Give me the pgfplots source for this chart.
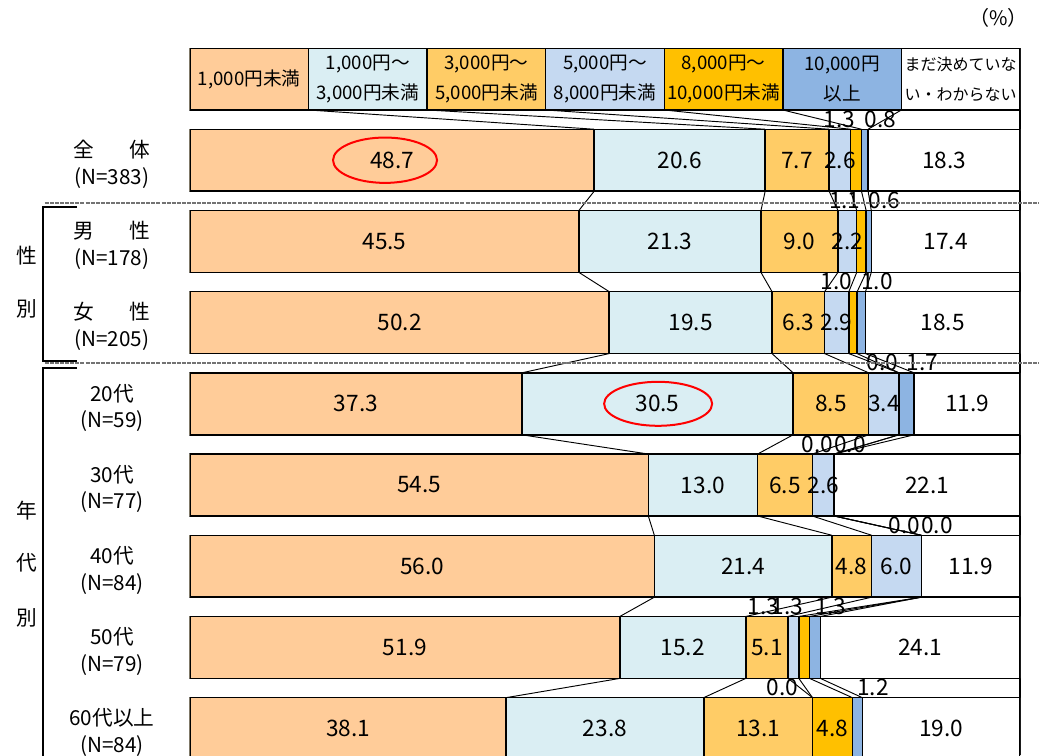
\documentclass[border=0pt]{standalone}
\usepackage{fontspec}
\setmainfont{Noto Sans CJK JP}
\usepackage{pgfplots}
\usepackage{pgfplotstable}
\pgfplotsset{compat=1.18}

\definecolor{c1}{HTML}{FFCC99}
\definecolor{c2}{HTML}{DAEEF3}
\definecolor{c3}{HTML}{FFCC66}
\definecolor{c4}{HTML}{C5D9F1}
\definecolor{c5}{HTML}{FFC000}
\definecolor{c6}{HTML}{8DB4E2}

% row 0 = legend header (equal widths)
\pgfplotstableread{
row a    b    c    d   e   f   g
0   1    1    1    1   1   1   1
1   48.7 20.6 7.7  2.6 1.3 0.8 18.3
2   45.5 21.3 9.0  2.2 1.1 0.6 17.4
3   50.2 19.5 6.3  2.9 1.0 1.0 18.5
4   37.3 30.5 8.5  3.4 0.0 1.7 11.9
5   54.5 13.0 6.5  2.6 0.0 0.0 22.1
6   56.0 21.4 4.8  6.0 0.0 0.0 11.9
7   51.9 15.2 5.1  1.3 1.3 1.3 24.1
8   38.1 23.8 13.1 0.0 4.8 1.2 19.0
}\data

% 100% stacking: cumulative shares
\pgfplotstablecreatecol[create col/expr={\thisrow{a}+\thisrow{b}+\thisrow{c}+\thisrow{d}+\thisrow{e}+\thisrow{f}+\thisrow{g}}]{s}\data
\pgfplotstablecreatecol[create col/expr={100*\thisrow{a}/\thisrow{s}}]{cA}\data
\pgfplotstablecreatecol[create col/expr={\thisrow{cA}+100*\thisrow{b}/\thisrow{s}}]{cB}\data
\pgfplotstablecreatecol[create col/expr={\thisrow{cB}+100*\thisrow{c}/\thisrow{s}}]{cC}\data
\pgfplotstablecreatecol[create col/expr={\thisrow{cC}+100*\thisrow{d}/\thisrow{s}}]{cD}\data
\pgfplotstablecreatecol[create col/expr={\thisrow{cD}+100*\thisrow{e}/\thisrow{s}}]{cE}\data
\pgfplotstablecreatecol[create col/expr={\thisrow{cE}+100*\thisrow{f}/\thisrow{s}}]{cF}\data
% series lines: shift to next row
\pgfplotstablecreatecol[create col/expr={\nextrow{cA}-\thisrow{cA}}]{uA}\data
\pgfplotstablecreatecol[create col/expr={\nextrow{cB}-\thisrow{cB}}]{uB}\data
\pgfplotstablecreatecol[create col/expr={\nextrow{cC}-\thisrow{cC}}]{uC}\data
\pgfplotstablecreatecol[create col/expr={\nextrow{cD}-\thisrow{cD}}]{uD}\data
\pgfplotstablecreatecol[create col/expr={\nextrow{cE}-\thisrow{cE}}]{uE}\data
\pgfplotstablecreatecol[create col/expr={\nextrow{cF}-\thisrow{cF}}]{uF}\data

\pgfplotsset{
  seg/.style={xbar, bar shift=0pt, bar width=0.763, draw=black, line width=1.1pt, fill=#1},
  sl/.style={black, line width=0.7pt, quiver={u=\thisrow{#1}, v=0.237}, skip coords between index={8}{9}},
  lab/.style={draw=none, point meta=explicit,
    nodes near coords={\pgfmathprintnumber[fixed,fixed zerofill,precision=1,assume math mode=true]{\pgfplotspointmeta}},
    every node near coord/.append style={anchor=center, inner sep=0pt, font=\fontsize{17}{17}\selectfont},
    skip coords between index={0}{1}},
}

\begin{document}
\begin{tikzpicture}
\begin{axis}[
  x=6.225pt, y=60.9pt, y dir=reverse,
  xmin=0, xmax=100, ymin=-0.3815, ymax=8.325,
  axis x line=none, axis y line*=right, ytick=\empty,
  axis line style={line width=1.1pt},
  clip mode=individual,
]
\addplot[seg=white] table[x expr=100, y=row]{\data};
\addplot[seg=c6] table[x=cF, y=row]{\data};
\addplot[seg=c5] table[x=cE, y=row]{\data};
\addplot[seg=c4] table[x=cD, y=row]{\data};
\addplot[seg=c3] table[x=cC, y=row]{\data};
\addplot[seg=c2] table[x=cB, y=row]{\data};
\addplot[seg=c1] table[x=cA, y=row]{\data};

\addplot[sl=uA] table[x=cA, y expr=\thisrow{row}+0.3815]{\data};
\addplot[sl=uB] table[x=cB, y expr=\thisrow{row}+0.3815]{\data};
\addplot[sl=uC] table[x=cC, y expr=\thisrow{row}+0.3815]{\data};
\addplot[sl=uD] table[x=cD, y expr=\thisrow{row}+0.3815]{\data};
\addplot[sl=uE] table[x=cE, y expr=\thisrow{row}+0.3815]{\data};
\addplot[sl=uF] table[x=cF, y expr=\thisrow{row}+0.3815]{\data};

\addplot[lab] table[x expr=\thisrow{cA}/2, y=row, meta=a]{\data};
\addplot[lab] table[x expr=(\thisrow{cA}+\thisrow{cB})/2, y=row, meta=b]{\data};
\addplot[lab] table[x expr=(\thisrow{cB}+\thisrow{cC})/2, y=row, meta=c]{\data};
\addplot[lab] table[x expr=(\thisrow{cC}+\thisrow{cD})/2-3.6*(\thisrow{d}<2),
  y expr=\thisrow{row}-0.505*(\thisrow{d}<2), meta=d]{\data};
\addplot[lab] table[x expr=(\thisrow{cD}+\thisrow{cE})/2-2.0*(\thisrow{e}<2),
  y expr=\thisrow{row}-0.505*(\thisrow{e}<2), meta=e]{\data};
\addplot[lab] table[x expr=(\thisrow{cE}+\thisrow{cF})/2+1.9*(\thisrow{f}<2),
  y expr=\thisrow{row}-0.505*(\thisrow{f}<2), meta=f]{\data};
\addplot[lab] table[x expr=(\thisrow{cF}+100)/2, y=row, meta=g]{\data};

% legend header text
\begin{scope}[every node/.style={align=center, font=\fontsize{14}{22.5}\selectfont}]
\node at (axis cs:7.143,0) {1,000円未満};
\node at (axis cs:21.429,0) {1,000円～\\3,000円未満};
\node at (axis cs:35.714,0) {3,000円～\\5,000円未満};
\node at (axis cs:50,0) {5,000円～\\8,000円未満};
\node at (axis cs:64.286,0) {8,000円～\\10,000円未満};
\node at (axis cs:78.571,0) {10,000円\\以上};
\node[font=\fontsize{12}{22.5}\selectfont] at (axis cs:92.857,0) {まだ決めていな\\い・わからない};
\end{scope}
\node[font=\fontsize{15}{15}\selectfont] at (axis cs:97.4,-0.751) {（\%）};

% row labels
\begin{scope}[every node/.style={align=center, yshift=-3pt, font=\fontsize{15.5}{20}\selectfont}]
\node at (axis cs:-9.4,1) {全\hspace{1.7em}体\\(N=383)};
\node at (axis cs:-9.4,2) {男\hspace{1.7em}性\\(N=178)};
\node at (axis cs:-9.4,3) {女\hspace{1.7em}性\\(N=205)};
\node at (axis cs:-9.4,4) {20代\\(N=59)};
\node at (axis cs:-9.4,5) {30代\\(N=77)};
\node at (axis cs:-9.4,6) {40代\\(N=84)};
\node at (axis cs:-9.4,7) {50代\\(N=79)};
\node at (axis cs:-9.4,8) {60代以上\\(N=84)};
\end{scope}
\begin{scope}[every node/.style={font=\fontsize{15.5}{15.5}\selectfont}]
\node at (axis cs:-19.64,2.18) {性};
\node at (axis cs:-19.64,2.83) {別};
\node at (axis cs:-19.64,5.31) {年};
\node at (axis cs:-19.64,5.96) {代};
\node at (axis cs:-19.64,6.63) {別};
\end{scope}

% separators and brackets
\draw[gray!90!black, line width=1.8pt, dash pattern=on 3pt off 0.8pt] (axis cs:-17.47,1.527) -- (axis cs:102.29,1.527);
\draw[gray!90!black, line width=1.8pt, dash pattern=on 3pt off 0.8pt] (axis cs:-17.47,3.497) -- (axis cs:102.29,3.497);
\draw[line width=1.2pt] (axis cs:-13.61,1.576) -- (axis cs:-17.71,1.576) -- (axis cs:-17.71,3.473) -- (axis cs:-13.61,3.473);
\draw[line width=1.2pt] (axis cs:-13.61,3.559) -- (axis cs:-17.71,3.559) -- (axis cs:-17.71,8.4);

% highlights
\draw[red, line width=1.5pt] (axis cs:23.5,1) ellipse [x radius=39pt, y radius=17pt];
\draw[red, line width=1.5pt] (axis cs:56.4,4) ellipse [x radius=40.5pt, y radius=16.5pt];

\coordinate (bbA) at (axis cs:-22.89,-0.973);
\coordinate (bbB) at (axis cs:102.29,8.325);
\end{axis}
\pgfresetboundingbox
\path (bbA) rectangle (bbB);
\end{tikzpicture}
\end{document}
